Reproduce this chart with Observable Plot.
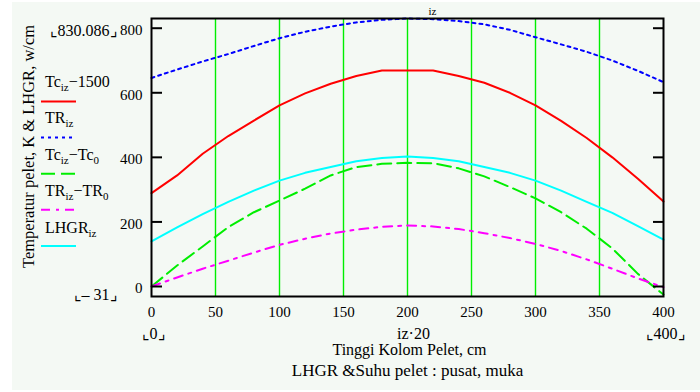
<!DOCTYPE html>
<html><head><meta charset="utf-8">
<script src="https://cdn.jsdelivr.net/npm/d3@7"></script>
<script src="https://cdn.jsdelivr.net/npm/@observablehq/plot@0.6"></script>
<style>
html,body{margin:0;padding:0;background:#fff;}
#wrap{position:relative;width:700px;height:392px;overflow:hidden;}
#panel{position:absolute;left:12px;top:2px;width:688px;height:388px;background:#f4f9f4;}
#wrap svg{position:absolute;left:0;top:0;}
#wrap svg text{font-family:"Liberation Serif","Times New Roman","DejaVu Serif",serif;}
</style></head><body><div id="wrap"><div id="panel"></div></div>
<script>
// x positions: iz*20
const z = [0,20,40,60,80,100,120,140,160,180,200,220,240,260,280,300,320,340,360,380,400];
// Tc_iz - 1500
const tcMinus1500 = [289,344,411,466,514,561,598,628,652,669,669,669,652,631,600,561,513,460,400,334,263];
// TR_iz
const trIz = [646,672,697,720,745,769,789,805,818,826,830,828,822,812,795,772,750,727,700,668,633];
// Tc_iz - Tc_0
const tcMinusTc0 = [0,65,124,184,230,266,303,344,370,380,383,382,366,341,308,273,230,179,118,39,-25];
// TR_iz - TR_0
const trMinusTr0 = [0,28,55,80,105,129,148,164,176,185,189,186,178,165,150,132,110,84,55,25,-2];
// LHGR_iz
const lhgrIz = [140,183,224,262,297,328,352,370,388,398,403,398,388,370,352,328,297,262,228,187,145];

const yLo = -31, yHi = 830.086;
const xLo = 0, xHi = 400;
const xTicks = [0,50,100,150,200,250,300,350,400];
const xGrid = [50,100,150,200,250,300,350];
const yTicks = [0,200,400,600,800];

const seriesColors = ["#ff0000","#0000ff","#00ee00","#ff00ff","#00ffff"];
const seriesDash = [null,"3,4","14,6","9,6,3,6",null];
const seriesValues = [tcMinus1500, trIz, tcMinusTc0, trMinusTr0, lhgrIz];
// legend label parts: [text, isSubscript]
const legendParts = [
  [["Tc",0],["iz",1],["\u22121500",0]],
  [["TR",0],["iz",1]],
  [["Tc",0],["iz",1],["\u2212Tc",0],["0",1]],
  [["TR",0],["iz",1],["\u2212TR",0],["0",1]],
  [["LHGR",0],["iz",1]]
];
const yTitle = "Temperatur pelet, K & LHGR, w/cm";
const xExpr = "iz\u00b720";
const xTitle = "Tinggi Kolom Pelet, cm";
const caption = "LHGR &Suhu pelet : pusat, muka";

const serif = "Liberation Serif, Times New Roman, DejaVu Serif, serif";

const lineMarks = seriesValues.map((vals, i) =>
  Plot.line(z.map((x, j) => ({x, y: vals[j]})), {
    x: "x", y: "y", stroke: seriesColors[i], strokeWidth: 2,
    strokeDasharray: seriesDash[i] || undefined
  })
);

const chart = Plot.plot({
  width: 700, height: 392,
  marginLeft: 151, marginRight: 37, marginTop: 18, marginBottom: 96,
  style: {background: "transparent", fontFamily: serif, color: "black", overflow: "visible"},
  x: {domain: [xLo, xHi], label: null},
  y: {domain: [yLo, yHi], label: null},
  color: {domain: ["grid"], range: ["#00ee00"]},
  marks: [
    Plot.ruleX(xGrid, {x: d => d, stroke: () => "grid", strokeWidth: 1.4}),
    ...lineMarks,
    Plot.frame({stroke: "black", strokeWidth: 2}),
    Plot.axisY(yTicks, {anchor: "left", tickSize: -11, strokeWidth: 2, tickFormat: () => ""}),
    Plot.axisY(yTicks, {anchor: "right", tickSize: -11, strokeWidth: 2, tickFormat: () => ""}),
    Plot.axisY(yTicks, {anchor: "left", tickSize: 0, tickPadding: 9, fontSize: 15, dy: 2}),
    Plot.axisX(xTicks, {anchor: "bottom", tickSize: 0, tickPadding: 10, fontSize: 15}),
    Plot.text([yHi], {y: d => d, text: d => `\u231e${d}\u231f`, frameAnchor: "left", textAnchor: "end", dx: -34, dy: 12, fontSize: 16}),
    Plot.text([yLo], {y: d => d, text: d => `\u231e\u2013 ${-d}\u231f`, frameAnchor: "left", textAnchor: "end", dx: -34, dy: -2, fontSize: 16}),
    Plot.text([xLo, xHi], {x: d => d, text: d => `\u231e${d}\u231f`, frameAnchor: "bottom", dy: 42, dx: 2, fontSize: 16}),
    Plot.text([xExpr], {text: d => d, frameAnchor: "bottom", dy: 42, dx: 6, fontSize: 16}),
    Plot.text([xTitle], {text: d => d, frameAnchor: "bottom", dy: 58, dx: 2, fontSize: 16}),
    Plot.text([caption], {text: d => d, frameAnchor: "bottom", dy: 79, fontSize: 17}),
    Plot.text(["iz"], {text: d => d, frameAnchor: "top", dy: -11, dx: 25, fontSize: 11})
  ]
});

document.getElementById("wrap").appendChild(chart);

const svg = d3.select(chart);
// rotated y title
svg.append("text")
  .attr("transform", "translate(34,146.5) rotate(-90)")
  .attr("text-anchor", "middle")
  .attr("font-size", 16.5).attr("fill", "black")
  .text(yTitle);

// legend, built from the series arrays
const lg = svg.append("g").attr("fill", "black").attr("text-anchor", "start");
legendParts.forEach((parts, i) => {
  const ty = 86.5 + i * 36.6;
  const ly = 101.5 + i * 36.1;
  const t = lg.append("text").attr("x", 45).attr("y", ty).attr("font-size", 16).attr("text-anchor", "start");
  parts.forEach(([s, sub], k) => {
    const ts = t.append("tspan").text(s);
    if (sub) ts.attr("font-size", 11).attr("dy", 4);
    else if (k > 0) ts.attr("dy", -4);
  });
  lg.append("line").attr("x1", 41).attr("x2", 76).attr("y1", ly).attr("y2", ly)
    .attr("stroke", seriesColors[i]).attr("stroke-width", 2)
    .attr("stroke-dasharray", seriesDash[i] || null);
});
</script>
</body></html>
